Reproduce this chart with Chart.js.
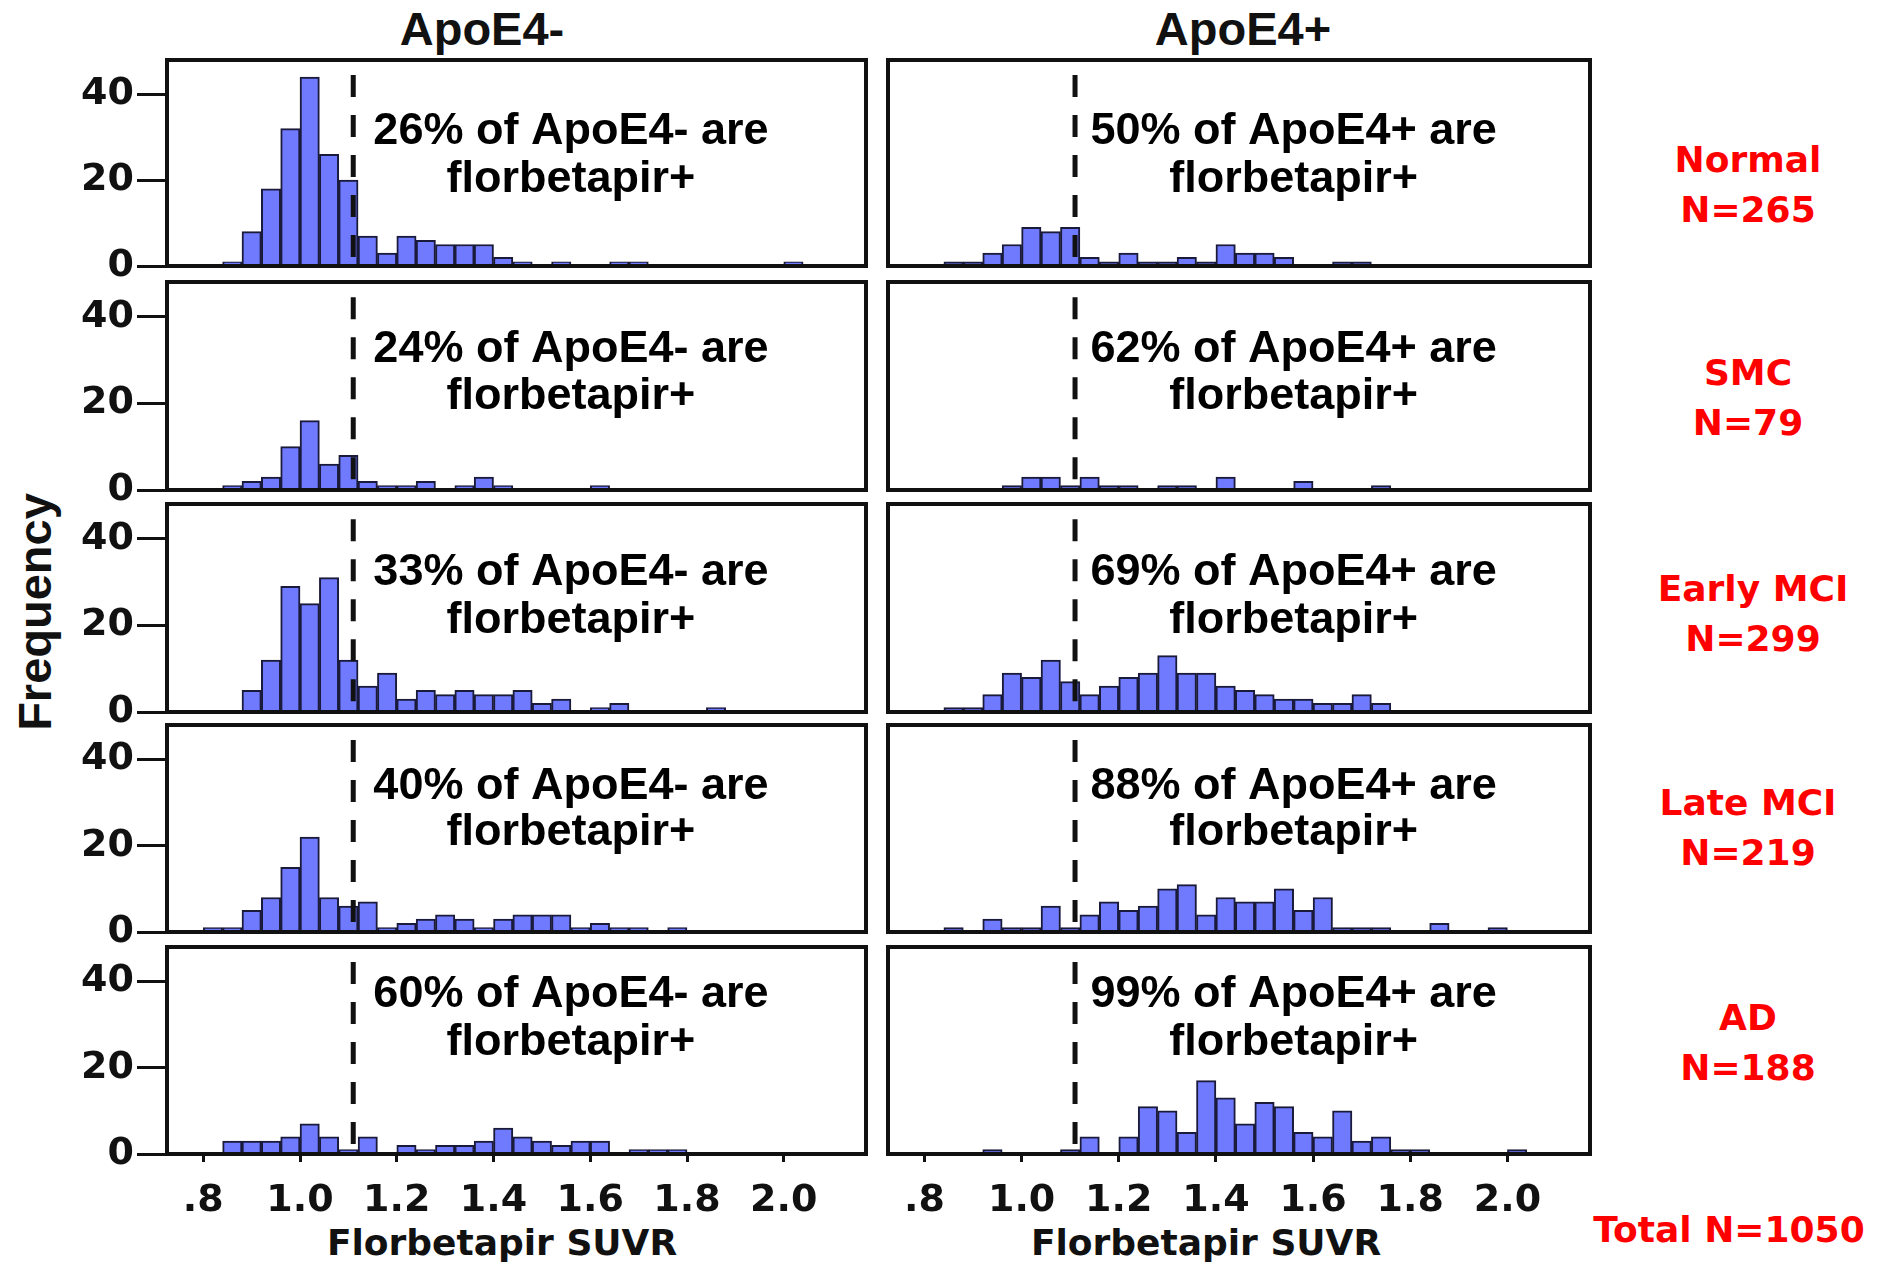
<!DOCTYPE html>
<html>
<head>
<meta charset="utf-8">
<script src="https://cdn.jsdelivr.net/npm/chart.js@4.4.1/dist/chart.umd.min.js"></script>
<style>
  body { margin: 0; background: #fff; width: 1881px; height: 1264px; position: relative; overflow: hidden; }
  canvas { position: absolute; }
  .t { position: absolute; white-space: nowrap; transform: translate(-50%, -50%); color: #111; }
  .head { font: bold 47px "Liberation Sans", Arial, sans-serif; }
  .axt { font: bold 36px "DejaVu Sans", sans-serif; }
  .grp { position: absolute; white-space: nowrap; transform: translateX(-50%); text-align: center;
         font: bold 36px "DejaVu Sans", sans-serif; color: #ff0000; line-height: 50px; }
</style>
</head>
<body>
<div class="t head" style="left:482px;top:28px">ApoE4-</div>
<div class="t head" style="left:1243px;top:28px">ApoE4+</div>
<div class="t head" style="left:34px;top:612px;transform:translate(-50%,-50%) rotate(-90deg)">Frequency</div>
<div class="t axt" style="left:502px;top:1242px">Florbetapir SUVR</div>
<div class="t axt" style="left:1206px;top:1242px">Florbetapir SUVR</div>
<div id="groups"></div>
<script>
// bin starts (SUVR), bins are 0.04 wide
const binStart = [0.80, 0.84, 0.88, 0.92, 0.96, 1.00, 1.04, 1.08, 1.12, 1.16, 1.20, 1.24, 1.28, 1.32, 1.36, 1.40,
                  1.44, 1.48, 1.52, 1.56, 1.60, 1.64, 1.68, 1.72, 1.76, 1.80, 1.84, 1.88, 1.92, 1.96, 2.00, 2.04];
const binW = 0.04;

const groups = ['Normal', 'SMC', 'Early MCI', 'Late MCI', 'AD'];
const groupN = [265, 79, 299, 219, 188];
const totalN = 1050;
const pctNeg = [26, 24, 33, 40, 60];
const pctPos = [50, 62, 69, 88, 99];
const cutoff = 1.11;

// ApoE4- counts
const normalNeg = [0,1,8,18,32,44,26,20,7,3,7,6,5,5,5,2,1,0,1,0,0,1,1,0,0,0,0,0,0,0,1,0];
const smcNeg    = [0,1,2,3,10,16,6,8,2,1,1,2,0,1,3,1,0,0,0,0,1,0,0,0,0,0,0,0,0,0,0,0];
const emciNeg   = [0,0,5,12,29,25,31,12,6,9,3,5,4,5,4,4,5,2,3,0,1,2,0,0,0,0,1,0,0,0,0,0];
const lmciNeg   = [1,1,5,8,15,22,8,6,7,1,2,3,4,3,1,3,4,4,4,1,2,1,1,0,1,0,0,0,0,0,0,0];
const adNeg     = [0,3,3,3,4,7,4,1,4,0,2,1,2,2,3,6,4,3,2,3,3,0,1,1,1,0,0,0,0,0,0,0];
// ApoE4+ counts
const normalPos = [0,1,1,3,5,9,8,9,2,1,3,1,1,2,1,5,3,3,2,0,0,1,1,0,0,0,0,0,0,0,0,0];
const smcPos    = [0,0,0,0,1,3,3,1,3,1,1,0,1,1,0,3,0,0,0,2,0,0,0,1,0,0,0,0,0,0,0,0];
const emciPos   = [0,1,1,4,9,8,12,7,4,6,8,9,13,9,9,6,5,4,3,3,2,2,4,2,0,0,0,0,0,0,0,0];
const lmciPos   = [0,1,0,3,1,1,6,1,4,7,5,6,10,11,4,8,7,7,10,5,8,1,1,1,0,0,2,0,0,1,0,0];
const adPos     = [0,0,0,1,0,0,0,1,4,0,4,11,10,5,17,13,7,12,11,5,4,10,3,4,1,1,0,0,0,0,1,0];

const countsNeg = [normalNeg, smcNeg, emciNeg, lmciNeg, adNeg];
const countsPos = [normalPos, smcPos, emciPos, lmciPos, adPos];

const xTicks = [0.8, 1.0, 1.2, 1.4, 1.6, 1.8, 2.0];
const yTicks = [0, 20, 40];

// layout (page pixels)
const rowTop = [60, 282, 504, 725, 947];
const rowBottom = [266, 490, 712, 932, 1154];
const cols = [
  { canvasLeft: 0, width: 870, pad: { left: 0, right: 4 } },
  { canvasLeft: 880, width: 720, pad: { left: 8, right: 10 } }
];
const noteOffset = [[72, 120], [68, 115], [69, 117], [62, 108], [48, 96]];
const groupPos = [[1748, 160], [1748, 373], [1753, 589], [1748, 803], [1748, 1018]];

const tickFont = { family: 'DejaVu Sans', weight: 'bold', size: 38 };

const boxPlugin = {
  id: 'box',
  afterDatasetsDraw(chart) {
    const { ctx, chartArea: a } = chart;
    ctx.save();
    ctx.strokeStyle = '#111';
    ctx.lineWidth = 4;
    ctx.strokeRect(a.left, a.top, a.right - a.left, a.bottom - a.top);
    ctx.restore();
  }
};

const notePlugin = {
  id: 'note',
  afterDraw(chart, args, opts) {
    const { ctx, chartArea: a } = chart;
    const x = chart.scales.x.getPixelForValue(opts.x);
    ctx.save();
    ctx.font = 'bold 45px "Liberation Sans", Arial, sans-serif';
    ctx.fillStyle = '#000';
    ctx.textAlign = 'center';
    ctx.textBaseline = 'middle';
    opts.lines.forEach((s, i) => ctx.fillText(s, x, a.top + opts.dy[i]));
    ctx.restore();
  }
};

function makePanel(row, col) {
  const c = cols[col];
  const last = row === 4;
  const cv = document.createElement('canvas');
  const h = (rowBottom[row] - rowTop[row]) + 26 + (last ? 80 : 26);
  cv.width = c.width;
  cv.height = h;
  cv.style.left = c.canvasLeft + 'px';
  cv.style.top = (rowTop[row] - 26) + 'px';
  document.body.appendChild(cv);

  const counts = col === 0 ? countsNeg[row] : countsPos[row];
  const pct = col === 0 ? pctNeg[row] : pctPos[row];
  const tag = col === 0 ? 'ApoE4-' : 'ApoE4+';

  new Chart(cv, {
    type: 'bar',
    data: {
      datasets: [
        {
          type: 'line',
          data: [{ x: cutoff, y: 44.5 }, { x: cutoff, y: 0 }],
          borderColor: '#111',
          borderWidth: 5,
          borderDash: [22, 18],
          pointRadius: 0,
          order: 0
        },
        {
          type: 'bar',
          data: binStart.map((s, i) => ({ x: s + binW / 2, y: counts[i] })),
          backgroundColor: 'rgb(112,122,255)',
          borderColor: '#1a1a3a',
          borderWidth: 2,
          barPercentage: 1,
          categoryPercentage: 1,
          order: 1
        }
      ]
    },
    options: {
      responsive: false,
      animation: false,
      layout: { padding: { top: 26, bottom: last ? 0 : 26, left: c.pad.left, right: c.pad.right } },
      plugins: {
        legend: { display: false },
        tooltip: { enabled: false },
        note: { x: 1.56, dy: noteOffset[row], lines: [pct + '% of ' + tag + ' are', 'florbetapir+'] }
      },
      scales: {
        x: {
          type: 'linear',
          min: 0.725,
          max: 2.17,
          offset: false,
          display: last,
          afterBuildTicks: (axis) => { axis.ticks = xTicks.map(v => ({ value: v })); },
          afterFit: (axis) => { axis.height = last ? 80 : 0; },
          grid: { drawOnChartArea: false, offset: false, tickLength: 8, color: '#111', lineWidth: 3 },
          border: { display: false },
          ticks: {
            font: { family: 'DejaVu Sans', weight: 'bold', size: 38 },
            color: '#111',
            padding: 16,
            maxRotation: 0,
            autoSkip: false,
            callback: (v) => v < 0.9 ? '.8' : v.toFixed(1)
          }
        },
        y: {
          min: 0,
          max: 48,
          display: col === 0,
          afterBuildTicks: (axis) => { axis.ticks = yTicks.map(v => ({ value: v })); },
          afterFit: (axis) => { axis.width = col === 0 ? 167 : 0; },
          grid: { drawOnChartArea: false, tickLength: 30, color: '#111', lineWidth: 3 },
          border: { display: false },
          ticks: { font: tickFont, color: '#111', padding: 3 }
        }
      }
    },
    plugins: [boxPlugin, notePlugin]
  });
}

for (let r = 0; r < 5; r++) {
  makePanel(r, 0);
  makePanel(r, 1);
}

// red group labels on the right
const gbox = document.getElementById('groups');
groups.forEach((g, i) => {
  const d = document.createElement('div');
  d.className = 'grp';
  d.style.left = groupPos[i][0] + 'px';
  d.style.top = (groupPos[i][1] - 25) + 'px';
  d.innerHTML = g + '<br>N=' + groupN[i];
  gbox.appendChild(d);
});
const tot = document.createElement('div');
tot.className = 'grp';
tot.style.left = '1729px';
tot.style.top = '1205px';
tot.textContent = 'Total N=' + totalN;
gbox.appendChild(tot);
</script>
</body>
</html>
